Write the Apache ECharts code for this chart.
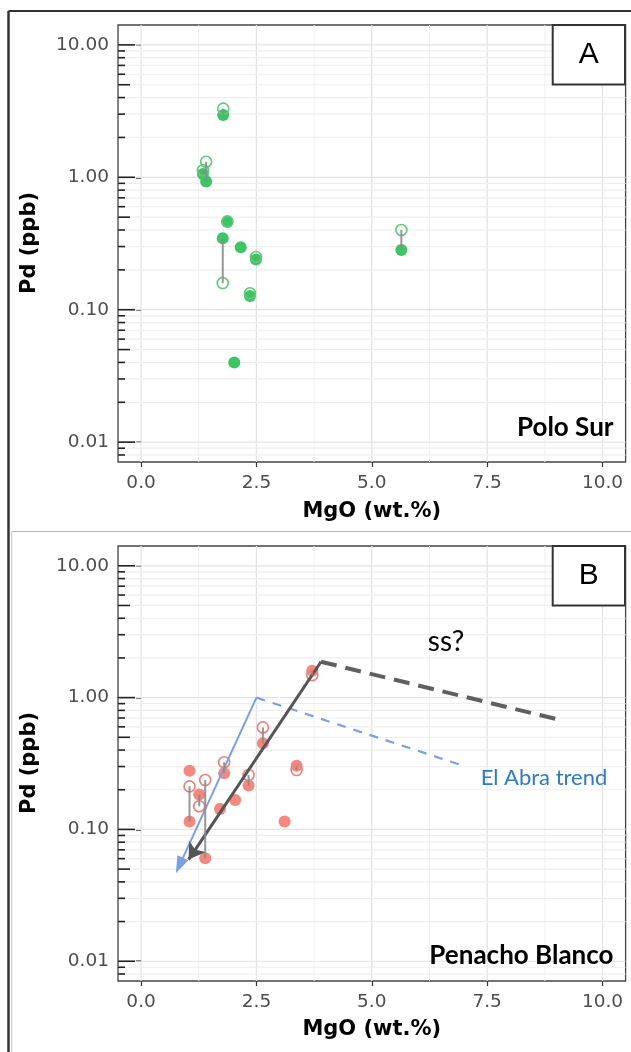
<!DOCTYPE html>
<html>
<head>
<meta charset="utf-8">
<script src="https://cdn.jsdelivr.net/npm/echarts@6/dist/echarts.min.js"></script>
<style>
  html, body { margin: 0; padding: 0; background: #fff; }
  #chart { width: 631px; height: 1052px; }
</style>
</head>
<body>
<div id="chart"></div>
<script>
// ---- data ----
// Panel A, Polo Sur: MgO (wt.%), Pd filled point, Pd open point (null = none)
var poloMgO    = [1.78, 1.41, 1.34, 1.87, 1.77, 2.16, 2.49, 2.36, 2.02, 5.64];
var poloPd     = [2.95, 0.93, 1.06, 0.46, 0.346, 0.296, 0.239, 0.127, 0.040, 0.283];
var poloPdOpen = [3.30, 1.31, 1.13, 0.465, 0.159, null, 0.25, 0.133, null, 0.40];

// Panel B, Penacho Blanco
var penMgO    = [1.05, 1.05, 1.39, 1.26, 1.80, 1.71, 2.04, 2.33, 2.64, 3.37, 3.11, 3.71];
var penPd     = [0.279, 0.115, 0.0605, 0.184, 0.267, 0.143, 0.167, 0.215, 0.45, 0.304, 0.115, 1.60];
var penPdOpen = [null, 0.212, 0.237, 0.150, 0.323, null, null, 0.259, 0.594, 0.282, null, 1.48];

// trend lines drawn in panel B, [MgO, Pd]
var elAbraArrow  = [[2.5, 1.0], [0.83, 0.0532]];
var elAbraDashed = [[2.5, 1.0], [6.91, 0.31]];
var ssArrow      = [[3.9, 1.87], [1.03, 0.059]];
var ssDashed     = [[3.9, 1.87], [9.15, 0.667]];

// axis ticks
var xTicks = [0, 2.5, 5, 7.5, 10];
var xMinorGrid = [1.25, 3.75, 6.25, 8.75];
var yTicks = [0.01, 0.1, 1, 10];
var logMantissas = [1, 2, 3, 4, 5, 6, 7, 8, 9];
var logDecades = [0.001, 0.01, 0.1, 1, 10];

var xMin = -0.5, xMax = 10.5;
var yMin = 0.00708, yMax = 14.13;

var logVals = [];
logDecades.forEach(function (d) {
  logMantissas.forEach(function (m) {
    var v = +(m * d).toPrecision(3);
    if (v >= yMin && v <= yMax) logVals.push({ v: v, m: m });
  });
});

var chart = echarts.init(document.getElementById('chart'));

var tickFont = { fontFamily: 'DejaVu Sans', fontSize: 18.5, color: '#4d4d4d' };

function xAxisCfg(gi) {
  return {
    type: 'value', gridIndex: gi, min: xMin, max: xMax,
    axisLine: { show: false },
    axisTick: { show: true, customValues: xTicks, length: 5, lineStyle: { color: '#333', width: 1.2 } },
    axisLabel: Object.assign({ customValues: xTicks, margin: 12,
      formatter: function (v) { return v.toFixed(1); } }, tickFont),
    splitLine: { show: false }
  };
}
function yAxisCfg(gi) {
  return {
    type: 'log', logBase: 10, gridIndex: gi, min: yMin, max: yMax,
    axisLine: { show: false },
    axisTick: { show: true, customValues: yTicks, length: 5, lineStyle: { color: '#333', width: 1.5 } },
    axisLabel: Object.assign({ customValues: yTicks, margin: 9,
      formatter: function (v) { return v.toFixed(2); } }, tickFont),
    splitLine: { show: false }
  };
}

function hGridRender(params, api) {
  var cs = params.coordSys;
  var y = api.coord([0, api.value(1)])[1];
  var m = api.value(2);
  var len = m === 1 ? 17 : (m === 5 ? 12 : 7);
  return {
    type: 'group',
    children: [
      { type: 'line', shape: { x1: cs.x, y1: y, x2: cs.x + cs.width, y2: y },
        style: { stroke: m === 1 ? '#e3e3e3' : '#eeeeee', lineWidth: 1.2 }, z2: 0 },
      { type: 'line', shape: { x1: cs.x, y1: y, x2: cs.x + len, y2: y },
        style: { stroke: '#222', lineWidth: 1.6 }, z2: 5 }
    ]
  };
}
function vGridRender(params, api) {
  var cs = params.coordSys;
  var x = api.coord([api.value(0), 1])[0];
  var major = api.value(2) === 1;
  return { type: 'line', shape: { x1: x, y1: cs.y, x2: x, y2: cs.y + cs.height },
    style: { stroke: major ? '#e3e3e3' : '#f1f1f1', lineWidth: major ? 1.3 : 1 } };
}
function segRender(params, api) {
  var p1 = api.coord([api.value(0), api.value(1)]);
  var p2 = api.coord([api.value(0), api.value(2)]);
  return { type: 'line', shape: { x1: p1[0], y1: p1[1], x2: p2[0], y2: p2[1] },
    style: { stroke: 'rgba(140,140,140,0.9)', lineWidth: 2 } };
}

function panelSeries(gi, mgo, pd, pdOpen, fill, stroke) {
  var filled = mgo.map(function (x, i) { return [x, pd[i]]; });
  var open = [], segs = [];
  mgo.forEach(function (x, i) {
    if (pdOpen[i] != null) {
      open.push([x, pdOpen[i]]);
      segs.push([x, pd[i], pdOpen[i]]);
    }
  });
  var vData = xTicks.map(function (v) { return [v, 1, 1]; })
    .concat(xMinorGrid.map(function (v) { return [v, 1, 0]; }));
  var hData = logVals.map(function (o) { return [0, o.v, o.m]; });
  return [
    { type: 'custom', xAxisIndex: gi, yAxisIndex: gi, data: vData, renderItem: vGridRender, silent: true, z: 0 },
    { type: 'custom', xAxisIndex: gi, yAxisIndex: gi, data: hData, renderItem: hGridRender, silent: true, z: 1 },
    { type: 'scatter', xAxisIndex: gi, yAxisIndex: gi, data: filled, symbol: 'circle', symbolSize: 12,
      itemStyle: { color: fill, opacity: 1 }, z: 3 },
    { type: 'scatter', xAxisIndex: gi, yAxisIndex: gi, data: open, symbol: 'circle', symbolSize: 11,
      itemStyle: { color: 'rgba(255,255,255,0)', borderColor: stroke, borderWidth: 1.6, opacity: 1 }, z: 4 },
    { type: 'custom', xAxisIndex: gi, yAxisIndex: gi, data: segs, renderItem: segRender, silent: true, z: 5 }
  ];
}

function mlPair(pts, color, width, dash, endSymbol, endSize) {
  return [
    { coord: pts[0], symbol: 'none', lineStyle: { color: color, width: width, type: dash } },
    { coord: pts[1], symbol: endSymbol, symbolSize: endSize }
  ];
}

var series = []
  .concat(panelSeries(0, poloMgO, poloPd, poloPdOpen, '#3ec463', '#5cca7a'))
  .concat(panelSeries(1, penMgO, penPd, penPdOpen, '#f4877e', '#ec7f76'));

series.push({
  type: 'line', xAxisIndex: 1, yAxisIndex: 1, data: [], z: 6,
  markLine: {
    silent: true, animation: false,
    label: { show: false },
    emphasis: { disabled: true },
    data: [
      mlPair(elAbraDashed, '#7a9fe2', 2.2, [9, 8], 'none', 0),
      mlPair(elAbraArrow, '#7a9fe2', 2, 'solid', 'triangle', [12, 17]),
      mlPair(ssDashed, '#5f5f5f', 4, [16, 9], 'none', 0),
      mlPair(ssArrow, '#555555', 3, 'solid', 'arrow', [15, 16])
    ]
  }
});

function txt(x, y, s, font, opts) {
  return Object.assign({
    type: 'text', x: x, y: y, z: 50,
    style: Object.assign({ text: s, font: font, fill: '#000', align: 'center', verticalAlign: 'middle' }, opts || {})
  });
}
function letterBox(top, s) {
  return [
    { type: 'rect', shape: { x: 552.7, y: top, width: 72.3, height: 59.5 }, z: 40,
      style: { fill: '#fff', stroke: '#333', lineWidth: 2 } },
    txt(588.8, top + 30, s, '30px "Liberation Sans"')
  ];
}

var graphics = [
  { type: 'line', shape: { x1: 8.5, y1: 11, x2: 8.5, y2: 1052 }, style: { stroke: '#333', lineWidth: 2.5 }, z: 30 },
  { type: 'line', shape: { x1: 8.5, y1: 11, x2: 631, y2: 11 }, style: { stroke: '#333', lineWidth: 2 }, z: 30 },
  { type: 'line', shape: { x1: 11.7, y1: 531.5, x2: 631, y2: 531.5 }, style: { stroke: '#b5b5b5', lineWidth: 1.2 }, z: 30 },
  { type: 'line', shape: { x1: 11.7, y1: 531.5, x2: 11.7, y2: 1052 }, style: { stroke: '#c5c5c5', lineWidth: 1 }, z: 30 },
  txt(30, 243, 'Pd (ppb)', 'bold 21px "DejaVu Sans"', {}),
  txt(30, 763, 'Pd (ppb)', 'bold 21px "DejaVu Sans"', {}),
  txt(371.8, 512, 'MgO (wt.%)', 'bold 21px "DejaVu Sans"'),
  txt(371.8, 1030, 'MgO (wt.%)', 'bold 21px "DejaVu Sans"'),
  txt(613.5, 428, 'Polo Sur', 'bold 26px Lato', { align: 'right' }),
  txt(613.5, 956, 'Penacho Blanco', 'bold 26px Lato', { align: 'right' }),
  txt(446, 642, 'ss?', '28px Lato'),
  txt(544, 778, 'El Abra trend', '22px Lato', { fill: '#2e7bc4' })
].concat(letterBox(25, 'A')).concat(letterBox(546, 'B'));
graphics[4].rotation = Math.PI / 2;
graphics[5].rotation = Math.PI / 2;

var option = {
  animation: false,
  backgroundColor: '#fff',
  grid: [
    { left: 118, top: 25, width: 507.6, height: 437, show: true, borderColor: '#444', borderWidth: 1.3, backgroundColor: 'transparent' },
    { left: 118, top: 546, width: 507.6, height: 435, show: true, borderColor: '#444', borderWidth: 1.3, backgroundColor: 'transparent' }
  ],
  xAxis: [xAxisCfg(0), xAxisCfg(1)],
  yAxis: [yAxisCfg(0), yAxisCfg(1)],
  series: series,
  graphic: graphics
};
chart.setOption(option);
</script>
</body>
</html>
